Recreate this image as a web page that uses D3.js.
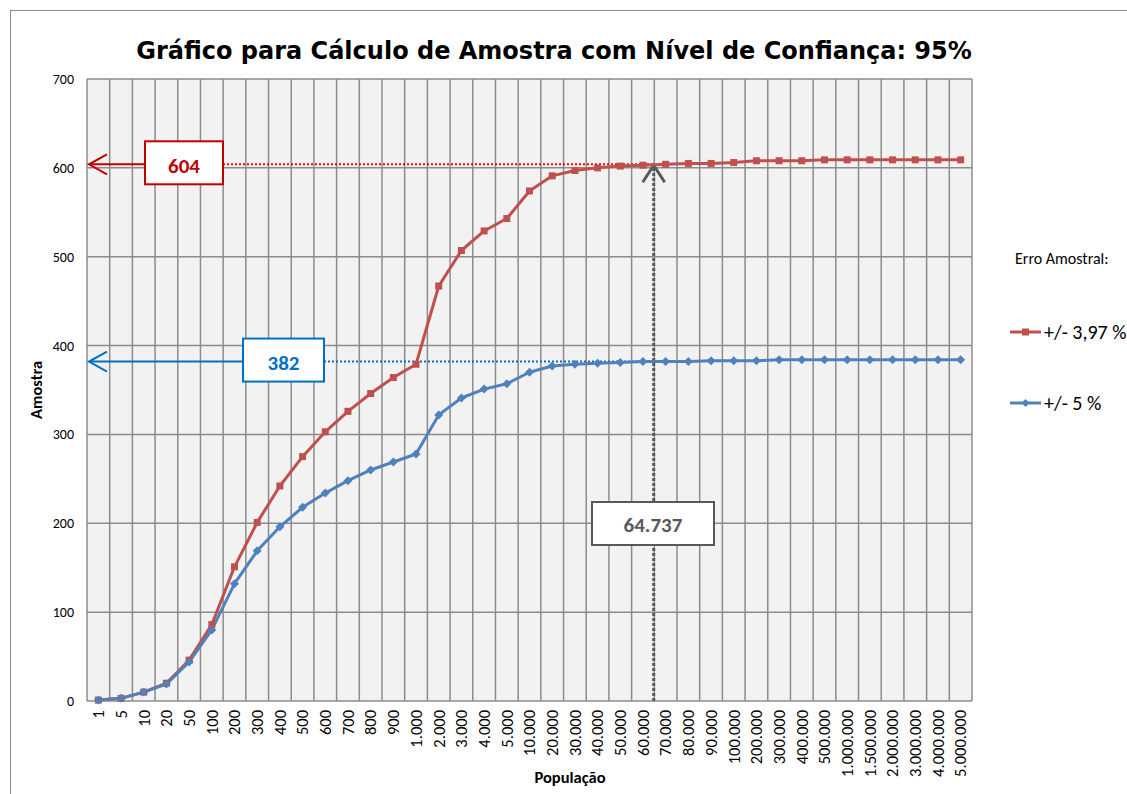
<!DOCTYPE html>
<html><head><meta charset="utf-8">
<script src="https://cdn.jsdelivr.net/npm/d3@7"></script>
<style>body{margin:0;background:#fff}svg{display:block}</style>
</head><body>
<svg id="c" width="1127" height="794"></svg>
<script>
const categories = ["1","5","10","20","50","100","200","300","400","500","600","700","800","900","1.000","2.000","3.000","4.000","5.000","10.000","20.000","30.000","40.000","50.000","60.000","70.000","80.000","90.000","100.000","200.000","300.000","400.000","500.000","1.000.000","1.500.000","2.000.000","3.000.000","4.000.000","5.000.000"];
const seriesRed = [1,3,10,20,46,86,151,201,242,275,303,326,346,364,379,467,507,529,543,574,591,597,600,602,603,604,605,605,606,608,608,608,609,609,609,609,609,609,609];
const seriesBlue = [1,3,10,19,44,80,132,169,196,218,234,248,260,269,278,322,341,351,357,370,377,379,380,381,382,382,382,383,383,383,384,384,384,384,384,384,384,384,384];
const seriesNames = ["+/- 3,97 %","+/- 5 %"];
const yTicks = [0,100,200,300,400,500,600,700];
const refRed = 604, refBlue = 382;
const refPop = 64737, refPopLabel = "64.737";
const refPopBetween = [60000, 70000]; // categories "60.000" and "70.000"

const svg = d3.select("#c");
const L=87,R=972,T=79,B=701;
const x = d3.scaleBand().domain(categories).range([L,R]).padding(0);
const y = d3.scaleLinear().domain([0,700]).range([B,T]);
const cx = c => x(c)+x.bandwidth()/2;
const font = "Carlito, Lato, 'Liberation Sans', sans-serif";

// outer border
svg.append("rect").attr("x",10.5).attr("y",10.5).attr("width",1130).attr("height",800)
  .attr("fill","#fff").attr("stroke","#8c8c8c").attr("stroke-width",1);

// title
svg.append("text").attr("x",554).attr("y",59).attr("text-anchor","middle")
  .attr("font-family","'DejaVu Sans', Verdana, sans-serif").attr("font-weight","bold")
  .attr("font-size",24).attr("fill","#000")
  .text("Gráfico para Cálculo de Amostra com Nível de Confiança: 95%");

// plot bg
svg.append("rect").attr("x",L).attr("y",T).attr("width",R-L).attr("height",B-T).attr("fill","#f2f2f2");

// grid
const g = svg.append("g");
yTicks.forEach(t=>{
  g.append("line").attr("x1",L).attr("x2",R).attr("y1",y(t)).attr("y2",y(t))
   .attr("stroke","#8c8c8c").attr("stroke-width",1.5);
});
categories.forEach(c=>{
  g.append("line").attr("x1",x(c)).attr("x2",x(c)).attr("y1",T).attr("y2",B)
   .attr("stroke","#8c8c8c").attr("stroke-width",1.5);
});
g.append("line").attr("x1",R).attr("x2",R).attr("y1",T).attr("y2",B).attr("stroke","#8c8c8c").attr("stroke-width",1.5);

// y axis labels
const yAxis = d3.axisLeft(y).tickValues(yTicks).tickSize(0).tickPadding(13);
const ya = svg.append("g").attr("transform",`translate(${L},0)`).call(yAxis);
ya.select(".domain").remove();
ya.selectAll("text").attr("font-family",font).attr("font-size",14).attr("fill","#000");

// x axis labels
const xAxis = d3.axisBottom(x).tickSize(0).tickPadding(0);
const xa = svg.append("g").attr("transform",`translate(0,${B})`).call(xAxis);
xa.select(".domain").remove();
xa.selectAll("text").attr("font-family",font).attr("font-size",16.5).attr("fill","#000")
  .attr("text-anchor","end").attr("transform","rotate(-90)")
  .attr("x",-9).attr("y",0).attr("dy","0.35em");

// axis titles
svg.append("text").attr("transform","translate(42,390) rotate(-90)").attr("text-anchor","middle")
  .attr("font-family",font).attr("font-weight","bold").attr("font-size",16.5).text("Amostra");
svg.append("text").attr("x",570).attr("y",783).attr("text-anchor","middle")
  .attr("font-family",font).attr("font-weight","bold").attr("font-size",16.5).text("População");

// reference lines
const xPop = cx("60.000") + (refPop-refPopBetween[0])/(refPopBetween[1]-refPopBetween[0])*x.step();
const ann = svg.append("g");
ann.append("line").attr("x1",223).attr("x2",xPop).attr("y1",y(refRed)).attr("y2",y(refRed))
  .attr("stroke","#ff0000").attr("stroke-width",2).attr("stroke-dasharray","2,2");
ann.append("line").attr("x1",324).attr("x2",xPop).attr("y1",y(refBlue)).attr("y2",y(refBlue))
  .attr("stroke","#0070c0").attr("stroke-width",2).attr("stroke-dasharray","2,2");
ann.append("line").attr("x1",xPop).attr("x2",xPop).attr("y1",B).attr("y2",y(refRed)+2)
  .attr("stroke","#595959").attr("stroke-width",3).attr("stroke-dasharray","3,2");

// series
const line = d3.line().x((d,i)=>cx(categories[i])).y(d=>y(d));
const colors = ["#c0504d","#4f81bd"];
[seriesRed, seriesBlue].forEach((s,k)=>{
  svg.append("path").datum(s).attr("d",line).attr("fill","none")
    .attr("stroke",colors[k]).attr("stroke-width",3).attr("stroke-linejoin","round");
});
svg.append("g").selectAll("rect").data(seriesRed).join("rect")
  .attr("x",(d,i)=>cx(categories[i])-3.5).attr("y",d=>y(d)-3.5).attr("width",7).attr("height",7)
  .attr("fill","#c0504d");
svg.append("g").selectAll("path").data(seriesBlue).join("path")
  .attr("d",(d,i)=>{const px=cx(categories[i]),py=y(d);return `M${px},${py-4.5}L${px+4.5},${py}L${px},${py+4.5}L${px-4.5},${py}Z`;})
  .attr("fill","#4f81bd");

// gray up arrow
ann.append("path").attr("d",`M${xPop-11},${y(refRed)+18}L${xPop},${y(refRed)+1}L${xPop+11},${y(refRed)+18}`)
  .attr("fill","none").attr("stroke","#595959").attr("stroke-width",3);

// left arrows + boxes
function leftArrow(val,color,boxX,boxW,label){
  const yy=y(val);
  ann.append("line").attr("x1",89).attr("x2",boxX).attr("y1",yy).attr("y2",yy).attr("stroke",color).attr("stroke-width",2);
  ann.append("path").attr("d",`M107,${yy-10}L89,${yy}L107,${yy+10}`).attr("fill","none").attr("stroke",color).attr("stroke-width",2);
  ann.append("rect").attr("x",boxX).attr("y",yy-23).attr("width",boxW).attr("height",43)
    .attr("fill","#fff").attr("stroke",color).attr("stroke-width",2);
  ann.append("text").attr("x",boxX+boxW/2).attr("y",yy+1).attr("dy","0.35em").attr("text-anchor","middle")
    .attr("font-family",font).attr("font-weight","bold").attr("font-size",21).attr("fill",color).text(label);
}
leftArrow(refRed,"#c00000",145,78,String(refRed));
leftArrow(refBlue,"#0070c0",243,81,String(refBlue));

// population box
ann.append("rect").attr("x",592).attr("y",502).attr("width",122).attr("height",43)
  .attr("fill","#fff").attr("stroke","#595959").attr("stroke-width",2);
ann.append("text").attr("x",653).attr("y",525).attr("dy","0.35em").attr("text-anchor","middle")
  .attr("font-family",font).attr("font-weight","bold").attr("font-size",21).attr("fill","#595959").text(refPopLabel);

// legend
const lg = svg.append("g");
lg.append("text").attr("x",1015).attr("y",264).attr("font-family",font).attr("font-size",16).text("Erro Amostral:");
[332,403].forEach((ly,k)=>{
  lg.append("line").attr("x1",1010).attr("x2",1041).attr("y1",ly).attr("y2",ly).attr("stroke",colors[k]).attr("stroke-width",3);
  if(k===0) lg.append("rect").attr("x",1022).attr("y",ly-3.5).attr("width",7).attr("height",7).attr("fill",colors[k]);
  else lg.append("path").attr("d",`M1025.5,${ly-4}L1029.5,${ly}L1025.5,${ly+4}L1021.5,${ly}Z`).attr("fill",colors[k]);
  lg.append("text").attr("x",1044).attr("y",ly).attr("dy","0.35em").attr("font-family",font).attr("font-size",20).text(seriesNames[k]);
});
</script>
</body></html>
